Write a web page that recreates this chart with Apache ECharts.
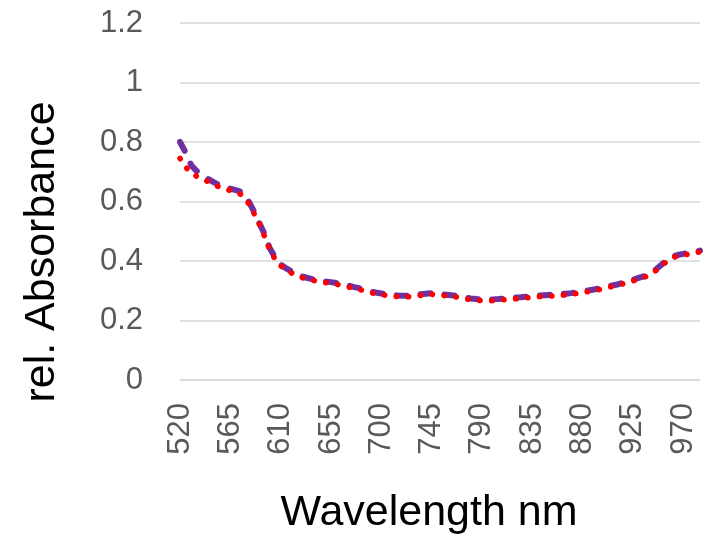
<!DOCTYPE html>
<html>
<head>
<meta charset="utf-8">
<script src="https://cdn.jsdelivr.net/npm/echarts@6/dist/echarts.min.js"></script>
<style>html,body{margin:0;padding:0;background:#fff}#c{width:713px;height:541px}</style>
</head>
<body>
<div id="c"></div>
<script>
// Wavelengths (nm), 5 nm steps
const wavelengths = [520,525,530,535,540,545,550,555,560,565,570,575,580,585,590,595,600,605,610,615,620,625,630,635,640,645,650,655,660,665,670,675,680,685,690,695,700,705,710,715,720,725,730,735,740,745,750,755,760,765,770,775,780,785,790,795,800,805,810,815,820,825,830,835,840,845,850,855,860,865,870,875,880,885,890,895,900,905,910,915,920,925,930,935,940,945,950,955,960,965,970,975,980,985];
// purple dashed series
const seriesA = [0.800,0.765,0.722,0.702,0.688,0.676,0.665,0.656,0.649,0.643,0.638,0.632,0.610,0.575,0.535,0.495,0.445,0.412,0.388,0.375,0.364,0.353,0.347,0.342,0.338,0.335,0.331,0.329,0.326,0.321,0.318,0.313,0.309,0.303,0.298,0.294,0.291,0.288,0.286,0.284,0.283,0.284,0.286,0.288,0.290,0.292,0.290,0.288,0.286,0.284,0.281,0.277,0.274,0.272,0.271,0.270,0.271,0.272,0.274,0.276,0.277,0.278,0.280,0.282,0.284,0.285,0.286,0.287,0.289,0.290,0.292,0.295,0.298,0.301,0.304,0.308,0.313,0.317,0.320,0.326,0.332,0.337,0.343,0.349,0.358,0.370,0.386,0.402,0.415,0.420,0.424,0.427,0.430,0.435];
// red dotted series
const seriesB = [0.745,0.715,0.698,0.684,0.675,0.667,0.657,0.649,0.642,0.637,0.631,0.623,0.602,0.568,0.532,0.488,0.440,0.406,0.384,0.371,0.359,0.350,0.343,0.338,0.334,0.331,0.327,0.325,0.322,0.317,0.313,0.308,0.305,0.299,0.294,0.290,0.287,0.284,0.282,0.280,0.279,0.280,0.282,0.284,0.286,0.288,0.286,0.284,0.282,0.280,0.277,0.273,0.270,0.268,0.267,0.266,0.267,0.268,0.270,0.272,0.273,0.274,0.276,0.278,0.280,0.281,0.282,0.283,0.285,0.286,0.288,0.291,0.294,0.297,0.300,0.304,0.309,0.313,0.316,0.322,0.328,0.333,0.339,0.345,0.354,0.366,0.382,0.398,0.411,0.416,0.420,0.423,0.426,0.431];
const yTitle = 'rel. Absorbance';
const xTitle = 'Wavelength nm';

const FONT = 'Liberation Sans';
const chart = echarts.init(document.getElementById('c'), null, {renderer: 'canvas'});
chart.setOption({
  animation: false,
  backgroundColor: '#ffffff',
  grid: {left: 180, right: 13, top: 23, bottom: 161, containLabel: false},
  xAxis: {
    type: 'category',
    data: wavelengths.map(String),
    boundaryGap: false,
    axisLine: {show: true, lineStyle: {color: '#d9d9d9', width: 1.5}},
    axisTick: {show: false},
    axisLabel: {interval: 8, rotate: 90, margin: 23, fontSize: 31, color: '#595959', fontFamily: FONT},
    splitLine: {show: false}
  },
  yAxis: {
    type: 'value',
    min: 0, max: 1.2, interval: 0.2,
    axisLine: {show: false},
    axisTick: {show: false},
    axisLabel: {margin: 37, fontSize: 31, color: '#595959', fontFamily: FONT},
    splitLine: {lineStyle: {color: '#d9d9d9', width: 1.5}}
  },
  series: [
    {type: 'line', data: seriesA, symbol: 'none', smooth: false,
     lineStyle: {color: '#7030A0', width: 6, type: [10, 14], cap: 'round', join: 'round'}},
    {type: 'line', data: seriesB, symbol: 'none', smooth: false,
     lineStyle: {color: '#FF0000', width: 5.5, type: [0.5, 11.5], cap: 'round', join: 'round'}}
  ],
  graphic: [
    {type: 'text', x: 42, y: 252, rotation: Math.PI / 2,
     style: {text: yTitle, font: '43px "' + FONT + '"', fill: '#000', textAlign: 'center', textVerticalAlign: 'middle'}},
    {type: 'text', x: 429, y: 513,
     style: {text: xTitle, font: '43px "' + FONT + '"', fill: '#000', textAlign: 'center', textVerticalAlign: 'middle'}}
  ]
});
</script>
</body>
</html>
